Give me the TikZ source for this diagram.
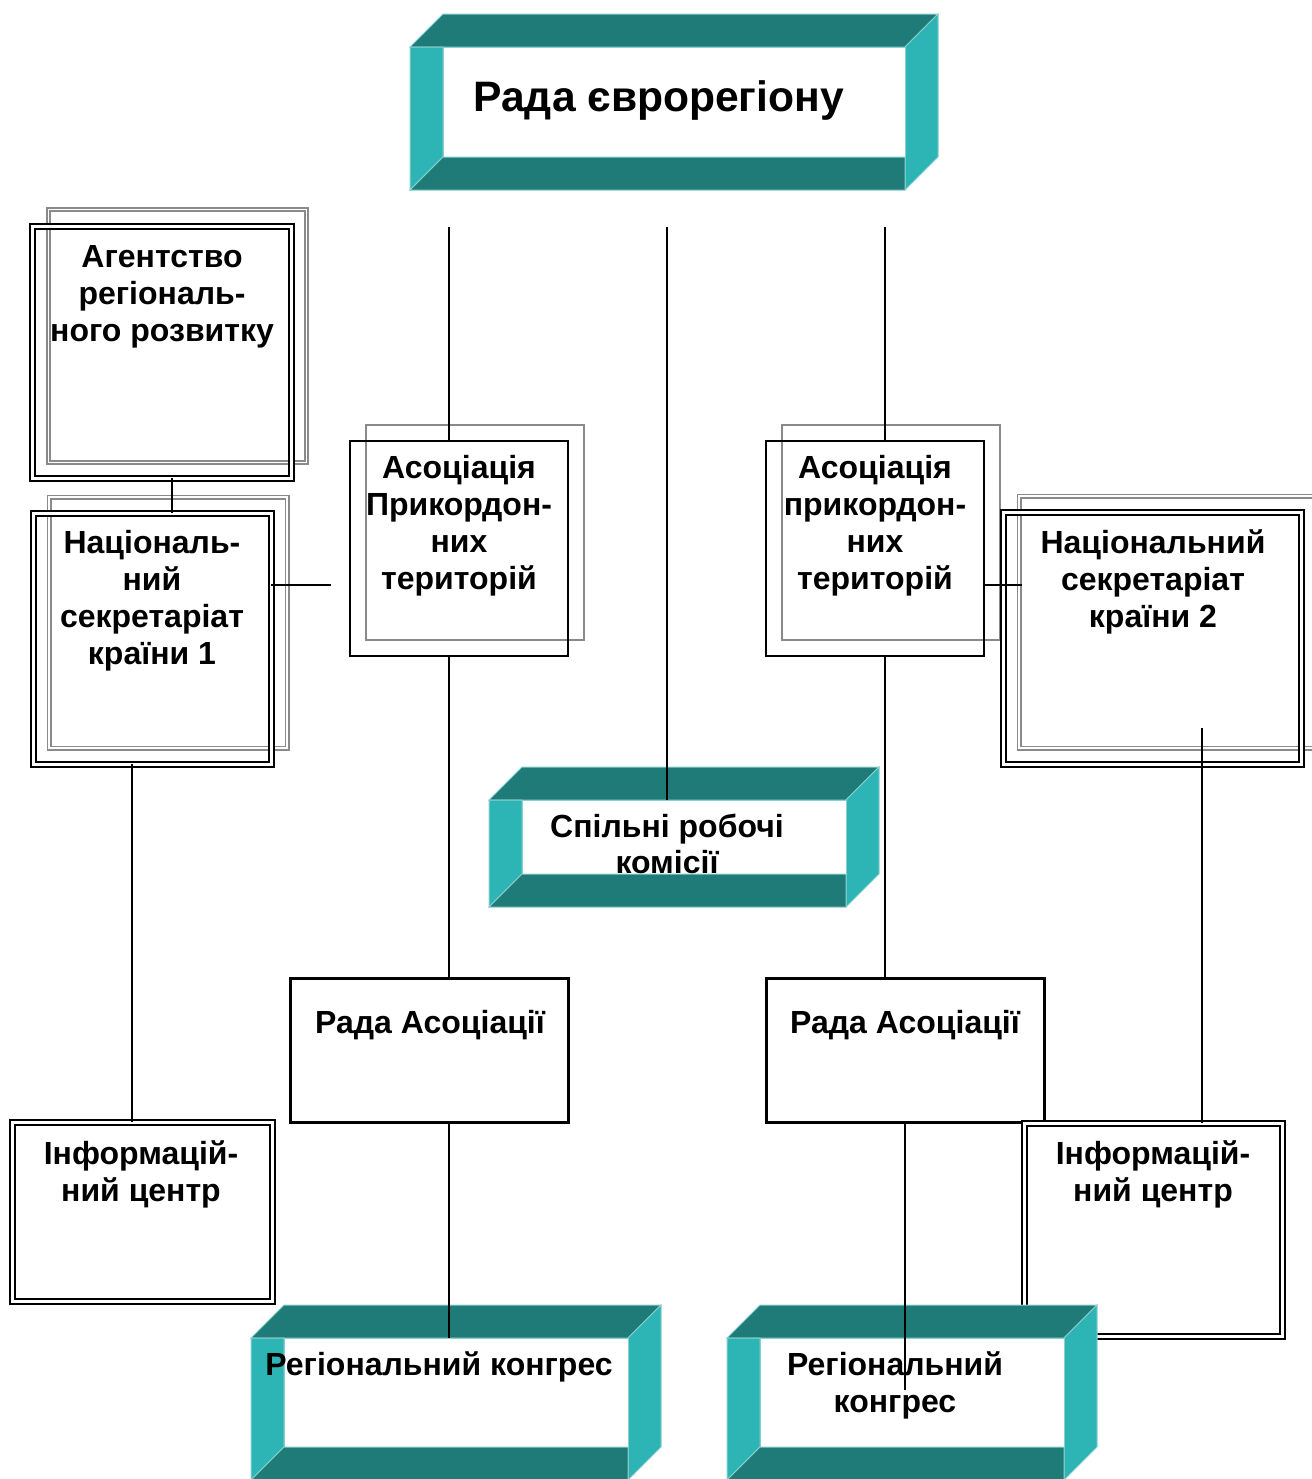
\documentclass[tikz,border=0pt]{standalone}
\usepackage{fontspec}
\setmainfont{Liberation Sans}
\definecolor{tdark}{HTML}{1F7B78}
\definecolor{tlight}{HTML}{2DB4B4}
\definecolor{tedge}{HTML}{8CCFCF}
\definecolor{shade}{HTML}{8A8A8A}
\tikzset{
 sz/.style 2 args={minimum width=#1*0.5pt, minimum height=#2*0.5pt},
 box/.style={inner sep=0pt, outer sep=0pt},
 dbox/.style={box, draw=black, double=white, double distance=1.5pt, line width=1pt},
 gdbox/.style={box, draw=shade, double=white, double distance=0.9pt, line width=0.8pt},
 sbox/.style={box, draw=black, line width=0.8pt},
 gsbox/.style={box, draw=shade, line width=0.8pt},
 tbox/.style={box, draw=black, line width=1.5pt},
 lbl/.style={inner sep=0pt, align=center, font=\bfseries\fontsize{16pt}{18.5pt}\selectfont, anchor=base},
 conn/.style={line width=0.75pt},
 bev/.style={draw=tedge, line width=0.5pt}
}
\newcommand\bevtop[5]{%
 \path[bev, fill=tdark] (#2,#3) -- (#2+33,#3-33) -- (#4+33,#3-33) -- (#4,#3) -- cycle;
 \path[bev, fill=tlight] (#4,#3) -- (#4+33,#3-33) -- (#4+33,#5-33) -- (#4,#5) -- cycle;
 \path[bev, fill=white] (#2+33,#3) rectangle (#4,#5-33);
 \path[bev, fill=tlight] (#2,#3) -- (#2+33,#3) -- (#2+33,#5-33) -- (#2,#5) -- cycle;
 \node[box, minimum width=(#4-#2)*0.5pt, minimum height=(#5-#3)*0.5pt] (#1) at ({(#2+#4)/2},{(#3+#5)/2}) {};
}
\newcommand\bevbot[4]{%
 \path[bev, fill=tdark] (#1,#4) -- (#1+33,#4-33) -- (#3,#4-33) -- (#3,#4) -- cycle;
}
\begin{document}
\begin{tikzpicture}[x=0.5pt,y=-0.5pt]
\clip (0,0) rectangle (1312,1479);
\fill[white] (0,0) rectangle (1312,1479);

% title
\bevtop{title}{410}{47}{905}{190}
\bevbot{410}{47}{905}{190}
\node[lbl, anchor=base west, font=\bfseries\fontsize{21.3pt}{25pt}\selectfont] (title-t) at (473,111) {Рада єврорегіону};

% Agency
\node[gdbox, sz={258}{253}] (ag-s) at (177.5,336) {};
\node[dbox, sz={259}{252}] (ag) at (161.5,352) {};
\node[lbl] (ag-t) at (162,341.5) {Агентство\\регіональ-\\ного розвитку};

% National secretariat 1
\node[gdbox, sz={238}{251}] (nat1-s) at (168,622.5) {};
\node[dbox, sz={238}{251}] (nat1) at (152,638.5) {};
\node[lbl] (nat1-t) at (152,664.5) {Національ-\\ний\\секретаріат\\країни 1};

% Associations
\node[gsbox, sz={218}{215}] (asL-s) at (475,532.5) {};
\node[sbox, sz={218}{215}] (asL) at (459,548.5) {};
\node[lbl] (asL-t) at (459,589.5) {Асоціація\\Прикордон-\\них\\територій};
\node[gsbox, sz={218}{215}] (asR-s) at (891,532.5) {};
\node[sbox, sz={218}{215}] (asR) at (875,548.5) {};
\node[lbl] (asR-t) at (875,589.5) {Асоціація\\прикордон-\\них\\територій};

% National secretariat 2
\node[gdbox, sz={298}{252}] (nat2-s) at (1168,622) {};
\node[dbox, sz={298}{252}] (nat2) at (1152,638) {};
\node[lbl] (nat2-t) at (1153,627.5) {Національний\\секретаріат\\країни 2};

% Joint commissions
\bevtop{sp}{489}{800}{846}{907}
\node[lbl, font=\bfseries\fontsize{16pt}{18pt}\selectfont] (sp-t) at (667,873.5) {Спільні робочі\\комісії};
\bevbot{489}{800}{846}{907}

% Association councils
\node[tbox, sz={278}{144}] (radaL) at (429,1050) {};
\node[lbl] (radaL-t) at (430,1033.5) {Рада Асоціації};
\node[tbox, sz={278}{144}] (radaR) at (905,1050) {};
\node[lbl] (radaR-t) at (905,1033.5) {Рада Асоціації};

% Information centres
\node[dbox, sz={260}{179}] (inf1) at (142,1211.5) {};
\node[lbl] (inf1-t) at (141,1201.5) {Інформацій-\\ний центр};
\node[dbox, sz={258}{213}] (inf2) at (1153,1229.5) {};
\node[lbl] (inf2-t) at (1153,1201.5) {Інформацій-\\ний центр};

% Regional congresses
\bevtop{cgL}{251}{1338}{628}{1480}
\bevbot{251}{1338}{628}{1480}
\node[lbl] (cgL-t) at (439,1375.5) {Регіональний конгрес};
\bevtop{cgR}{727}{1338}{1064}{1480}
\bevbot{727}{1338}{1064}{1480}
\node[lbl] (cgR-t) at (895,1412.5) {Регіональний\\конгрес};

% free ends
\coordinate (t1) at (449,227);
\coordinate (t2) at (667,227);
\coordinate (t3) at (885,227);
\coordinate (n1end) at (331,585);
\coordinate (n2end) at (1022,585);
\coordinate (n2in) at (1202,728);
\coordinate (cgRin) at (905,1390);

% connectors
\draw[conn] (172,0 |- ag.south) -- (172,0 |- nat1.north);
\draw[conn] (nat1.east |- n1end) -- (n1end);
\draw[conn] (t1) -- (t1 |- asL.north);
\draw[conn] (t2) -- (t2 |- sp.north);
\draw[conn] (t3) -- (t3 |- asR.north);
\draw[conn] (449,0 |- asL.south) -- (449,0 |- radaL.north);
\draw[conn] (885,0 |- asR.south) -- (885,0 |- radaR.north);
\draw[conn] (asR.east |- n2end) -- (n2end);
\draw[conn] (132,0 |- nat1.south) -- (132,0 |- inf1.north);
\draw[conn] (n2in) -- (n2in |- inf2.north);
\draw[conn] (449,0 |- radaL.south) -- (449,0 |- cgL.north);
\draw[conn] (905,0 |- radaR.south) -- (cgRin);
\end{tikzpicture}
\end{document}
